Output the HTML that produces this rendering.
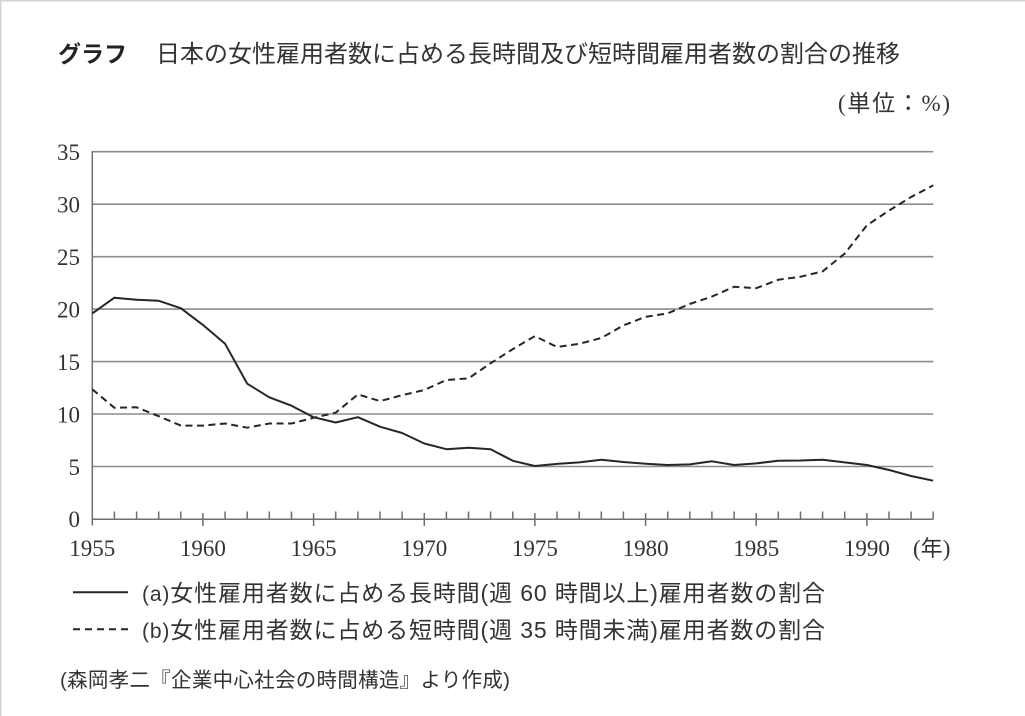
<!DOCTYPE html>
<html>
<head>
<meta charset="utf-8">
<style>
html,body{margin:0;padding:0;background:#fff;}
body{width:1025px;height:716px;overflow:hidden;}
svg{display:block;}
.num{font-family:"Liberation Serif","Noto Sans CJK JP",serif;font-size:23px;fill:#333;}
.cjk{font-family:"Liberation Sans","Noto Sans CJK JP",sans-serif;fill:#333;}
</style>
</head>
<body>
<svg width="1025" height="716" viewBox="0 0 1025 716" xmlns="http://www.w3.org/2000/svg">
<rect x="0" y="0" width="1025" height="716" fill="#fff"/>
<line x1="0" y1="0.75" x2="1025" y2="0.75" stroke="#d4d4d4" stroke-width="1.5"/>
<line x1="0.75" y1="0" x2="0.75" y2="716" stroke="#d4d4d4" stroke-width="1.5"/>

<!-- Title -->
<text x="58" y="62" font-family="'Liberation Sans','Noto Sans CJK JP',sans-serif" font-size="23" font-weight="bold" fill="#222">グラフ</text>
<text x="156" y="62" font-family="'Liberation Sans','Noto Sans CJK JP',sans-serif" font-size="24" fill="#333" textLength="744" lengthAdjust="spacing">日本の女性雇用者数に占める長時間及び短時間雇用者数の割合の推移</text>
<text x="838" y="111" class="num" textLength="112" lengthAdjust="spacing">(<tspan font-family="'Noto Sans CJK JP',sans-serif">単位：</tspan>%)</text>

<!-- grid -->
<g stroke="#8c8c8c" stroke-width="1.6">
<line x1="92.3" y1="151.7" x2="933.3" y2="151.7"/>
<line x1="92.3" y1="204.2" x2="933.3" y2="204.2"/>
<line x1="92.3" y1="256.7" x2="933.3" y2="256.7"/>
<line x1="92.3" y1="309.1" x2="933.3" y2="309.1"/>
<line x1="92.3" y1="361.6" x2="933.3" y2="361.6"/>
<line x1="92.3" y1="414.0" x2="933.3" y2="414.0"/>
<line x1="92.3" y1="466.5" x2="933.3" y2="466.5"/>
</g>
<!-- axes -->
<g stroke="#6e6e6e" stroke-width="1.5" fill="none">
<line x1="92.3" y1="151" x2="92.3" y2="525.5"/>
<line x1="92.3" y1="519.2" x2="933.3" y2="519.2"/>
<path d="M114.4 519V511.5M136.6 519V511.5M158.7 519V511.5M180.8 519V511.5M225.1 519V511.5M247.2 519V511.5M269.3 519V511.5M291.5 519V511.5M335.7 519V511.5M357.9 519V511.5M380.0 519V511.5M402.1 519V511.5M446.4 519V511.5M468.5 519V511.5M490.6 519V511.5M512.8 519V511.5M557.0 519V511.5M579.2 519V511.5M601.3 519V511.5M623.4 519V511.5M667.7 519V511.5M689.8 519V511.5M711.9 519V511.5M734.1 519V511.5M778.3 519V511.5M800.5 519V511.5M822.6 519V511.5M844.7 519V511.5M889.0 519V511.5M911.1 519V511.5M933.2 519V511.5"/>
<path d="M202.9 513V526M313.6 513V526M424.3 513V526M534.9 513V526M645.6 513V526M756.2 513V526M866.9 513V526"/>
</g>

<!-- y labels -->
<g class="num" text-anchor="end">
<text x="80" y="160">35</text>
<text x="80" y="212.5">30</text>
<text x="80" y="265">25</text>
<text x="80" y="317.4">20</text>
<text x="80" y="369.9">15</text>
<text x="80" y="422.3">10</text>
<text x="80" y="474.8">5</text>
<text x="80" y="527.2">0</text>
</g>
<!-- x labels -->
<g class="num" text-anchor="middle">
<text x="92.3" y="556">1955</text>
<text x="202.9" y="556">1960</text>
<text x="313.6" y="556">1965</text>
<text x="424.3" y="556">1970</text>
<text x="534.9" y="556">1975</text>
<text x="645.6" y="556">1980</text>
<text x="756.2" y="556">1985</text>
<text x="866.9" y="556">1990</text>
</g>
<text x="913" y="556" class="num">(<tspan font-family="'Noto Sans CJK JP',sans-serif" font-size="22">年</tspan>)</text>

<!-- series a: solid -->
<polyline fill="none" stroke="#262626" stroke-width="2" stroke-linejoin="round" points="92.3,313.4 114.4,297.7 136.6,299.8 158.7,300.8 180.8,308.2 202.9,324.9 225.1,343.8 247.2,383.7 269.3,397.3 291.5,405.7 313.6,417.2 335.7,422.5 357.9,417.2 380.0,426.7 402.1,433.0 424.3,443.5 446.4,449.2 468.5,447.7 490.6,449.2 512.8,460.8 534.9,466.0 557.0,463.9 579.2,462.4 601.3,459.7 623.4,462.0 645.6,463.7 667.7,465.0 689.8,464.4 711.9,461.3 734.1,465.0 756.2,463.4 778.3,460.7 800.5,460.5 822.6,459.7 844.7,462.4 866.9,465.0 889.0,470.0 911.1,476.0 933.2,480.7"/>
<!-- series b: dashed -->
<polyline fill="none" stroke="#262626" stroke-width="2" stroke-dasharray="7,4.5" stroke-linejoin="round" points="92.3,389.3 114.4,407.8 136.6,407.3 158.7,416.2 180.8,425.6 202.9,425.6 225.1,423.5 247.2,427.7 269.3,423.5 291.5,423.5 313.6,417.8 335.7,412.7 357.9,394.4 380.0,401.1 402.1,395.2 424.3,390.0 446.4,380.0 468.5,378.4 490.6,363.3 512.8,349.1 534.9,336.1 557.0,347.0 579.2,343.8 601.3,338.0 623.4,325.4 645.6,316.8 667.7,313.4 689.8,304.0 711.9,296.6 734.1,286.8 756.2,288.2 778.3,279.8 800.5,276.7 822.6,271.4 844.7,253.6 866.9,225.3 889.0,210.6 911.1,197.0 933.2,185.4"/>

<!-- legend -->
<line x1="73" y1="592.3" x2="128" y2="592.3" stroke="#262626" stroke-width="2"/>
<line x1="73" y1="629.3" x2="128" y2="629.3" stroke="#262626" stroke-width="2" stroke-dasharray="7,5"/>
<text x="142" y="601" class="cjk" font-size="23" textLength="683" lengthAdjust="spacing"><tspan font-size="21">(a)</tspan>女性雇用者数に占める長時間(週 60 時間以上)雇用者数の割合</text>
<text x="142" y="638" class="cjk" font-size="23" textLength="683" lengthAdjust="spacing"><tspan font-size="21">(b)</tspan>女性雇用者数に占める短時間(週 35 時間未満)雇用者数の割合</text>

<!-- source -->
<text x="60" y="687" class="cjk" font-size="20.5" textLength="450" lengthAdjust="spacing">(森岡孝二『企業中心社会の時間構造』より作成)</text>
</svg>
</body>
</html>
